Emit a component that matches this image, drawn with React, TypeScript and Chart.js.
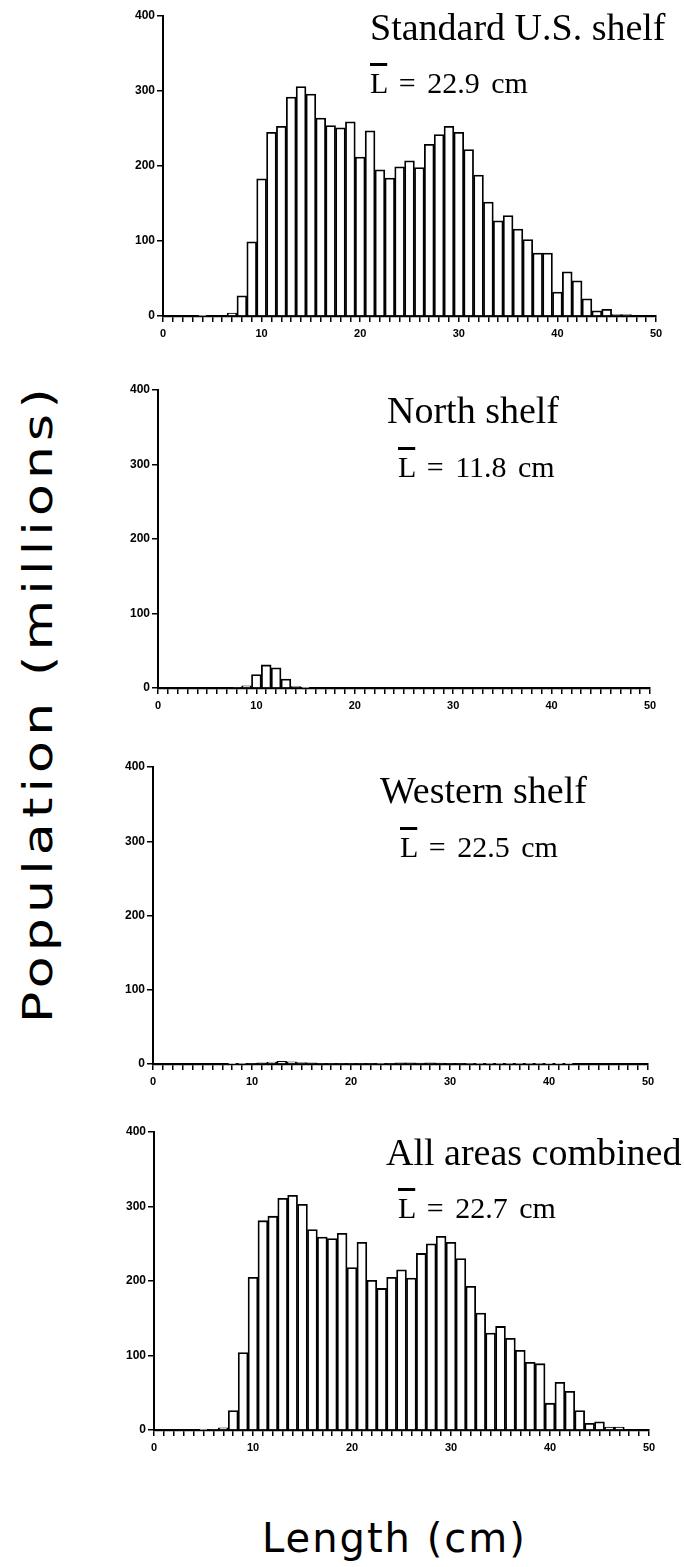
import React, { useEffect, useRef } from "react";
import { Chart, registerables } from "chart.js";

Chart.register(...registerables);

// Length classes (cm), bar centres
const lengthBins = [
  0, 1, 2, 3, 4, 5, 6, 7, 8, 9, 10, 11, 12, 13, 14, 15, 16, 17, 18, 19, 20, 21, 22, 23, 24,
  25, 26, 27, 28, 29, 30, 31, 32, 33, 34, 35, 36, 37, 38, 39, 40, 41, 42, 43, 44, 45, 46, 47, 48, 49,
];

// Population (millions) per length class
const standardShelf = [
  0, 0, 0, 0, 0.5, 1, 1, 4, 27, 99, 183, 245, 253, 292, 306, 296, 264, 254, 251, 259, 212, 247, 195, 184, 199,
  207, 198, 229, 242, 253, 245, 222, 188, 152, 127, 134, 116, 102, 84, 84, 32, 59, 47, 23, 7, 9, 2, 2, 0, 0,
];
const northShelf = [
  0, 0, 0, 0, 0, 0, 0, 0, 1, 3, 18, 31, 27, 12, 2, 0.5, 0, 0, 0, 0, 0, 0, 0, 0, 0,
  0, 0, 0, 0, 0, 0, 0, 0, 0, 0, 0, 0, 0, 0, 0, 0, 0, 0, 0, 0, 0, 0, 0, 0, 0,
];
const westernShelf = [
  0, 0, 0, 0, 0, 0, 0, 0, 0.2, 0.5, 1, 1.5, 2.5, 3.5, 3, 2, 1.5, 1, 1, 1, 1, 1, 1, 0.8, 1,
  1.5, 1.5, 1.2, 1.5, 1.2, 1, 1, 0.8, 0.6, 0.5, 0.5, 0.4, 0.3, 0.3, 0.3, 0.2, 0.2, 0.1, 0, 0, 0, 0, 0, 0, 0,
];
const allAreas = [
  0, 0, 0, 0, 0, 0.5, 1, 3, 26, 104, 205, 281, 287, 311, 315, 303, 269, 259, 257, 264, 218, 252, 201, 190, 205,
  215, 204, 237, 250, 260, 252, 230, 193, 157, 130, 139, 123, 107, 91, 89, 36, 64, 52, 26, 9, 11, 4, 4, 0, 0,
];

const yTickValues = [0, 100, 200, 300, 400];
const xLabelValues = [0, 10, 20, 30, 40, 50];
const panelNames = ["Standard U.S. shelf", "North shelf", "Western shelf", "All areas combined"];
const meanLengths = ["22.9", "11.8", "22.5", "22.7"];
const seriesList = [standardShelf, northShelf, westernShelf, allAreas];

type Geo = { x0: number; x50: number; y400: number; y0: number; tx: number; ty: number; lx: number; ly: number };
const geometry: Geo[] = [
  { x0: 163, x50: 656, y400: 16, y0: 316, tx: 370, ty: 27, lx: 370, ly: 83 },
  { x0: 158, x50: 650, y400: 390, y0: 688, tx: 387, ty: 410, lx: 398, ly: 467 },
  { x0: 153, x50: 648, y400: 767, y0: 1064, tx: 380, ty: 790, lx: 400, ly: 847 },
  { x0: 154, x50: 649, y400: 1132, y0: 1430, tx: 386, ty: 1152, lx: 398, ly: 1208 },
];

const CANVAS_LEFT = 90;
const PAD_TOP = 12;
const X_AXIS_H = 34;
const PAGE_W = 684;

function Panel({ values, g }: { values: number[]; g: Geo }) {
  const ref = useRef<HTMLCanvasElement>(null);
  const width = PAGE_W - CANVAS_LEFT;
  const height = PAD_TOP + (g.y0 - g.y400) + X_AXIS_H;

  useEffect(() => {
    const tickFont = { family: "'Liberation Sans', Arial, sans-serif", size: 11, weight: "bold" as const };
    const chart = new Chart(ref.current as HTMLCanvasElement, {
      type: "bar",
      data: {
        datasets: [
          {
            data: lengthBins.map((x, i) => ({ x, y: values[i] })),
            backgroundColor: "#ffffff",
            borderColor: "#000000",
            borderWidth: 1.8,
            barPercentage: 1,
            categoryPercentage: 1,
            borderSkipped: "bottom",
          } as any,
        ],
      },
      options: {
        responsive: false,
        animation: false,
        devicePixelRatio: 1,
        layout: { padding: { top: PAD_TOP, left: 0, right: PAGE_W - g.x50, bottom: 0 } },
        plugins: { legend: { display: false }, tooltip: { enabled: false } },
        scales: {
          x: {
            type: "linear",
            min: 0,
            max: 50,
            offset: false,
            ticks: {
              stepSize: 1,
              autoSkip: false,
              maxRotation: 0,
              minRotation: 0,
              color: "#000",
              padding: 5,
              font: tickFont,
              callback: (v: any) => {
                const n = Math.round(Number(v));
                return Math.abs(Number(v) - n) < 1e-6 && xLabelValues.includes(n) ? String(n) : "";
              },
            },
            grid: {
              display: true,
              drawOnChartArea: false,
              drawTicks: true,
              tickLength: 6,
              color: "#000",
              lineWidth: 1.5,
              offset: false,
            },
            border: { display: true, color: "#000", width: 2.2 },
            afterFit: (s: any) => {
              s.height = X_AXIS_H;
              s.paddingLeft = 0;
              s.paddingRight = 0;
            },
          } as any,
          y: {
            min: 0,
            max: 400,
            ticks: {
              stepSize: 100,
              color: "#000",
              padding: 2,
              font: { ...tickFont, size: 12 },
              callback: (v: any) => (yTickValues.includes(Number(v)) ? String(v) : ""),
            },
            grid: {
              display: true,
              drawOnChartArea: false,
              drawTicks: true,
              tickLength: 6,
              color: "#000",
              lineWidth: 1.5,
            },
            border: { display: true, color: "#000", width: 2 },
            afterFit: (s: any) => {
              s.width = g.x0 - CANVAS_LEFT;
              s.paddingTop = 0;
              s.paddingBottom = 0;
            },
          } as any,
        },
      },
    });
    return () => chart.destroy();
  }, []);

  return (
    <canvas
      ref={ref}
      width={width}
      height={height}
      style={{ position: "absolute", left: CANVAS_LEFT, top: g.y400 - PAD_TOP, width, height }}
    />
  );
}

export default function App() {
  return (
    <div style={{ position: "absolute", left: 0, top: 0, width: PAGE_W, height: 1567, background: "#fff", overflow: "hidden" }}>
      {geometry.map((g, i) => (
        <React.Fragment key={i}>
          <Panel values={seriesList[i]} g={g} />
          <div
            style={{
              position: "absolute",
              left: g.tx,
              top: g.ty - 19,
              fontFamily: "'Liberation Serif', 'Times New Roman', serif",
              fontSize: 38,
              lineHeight: 1,
              whiteSpace: "nowrap",
              color: "#000",
            }}
          >
            {panelNames[i]}
          </div>
          <div
            style={{
              position: "absolute",
              left: g.lx,
              top: g.ly - 15,
              fontFamily: "'Liberation Serif', 'Times New Roman', serif",
              fontSize: 30,
              lineHeight: 1,
              wordSpacing: 4,
              whiteSpace: "nowrap",
              color: "#000",
            }}
          >
            <span style={{ textDecoration: "overline" }}>L</span> = {meanLengths[i]} cm
          </div>
        </React.Fragment>
      ))}
      <div
        style={{
          position: "absolute",
          left: 38,
          top: 703,
          transform: "translate(-50%, -50%) rotate(-90deg) scaleX(1.3)",
          fontFamily: "'DejaVu Sans', sans-serif",
          fontSize: 40,
          letterSpacing: 4,
          whiteSpace: "nowrap",
          lineHeight: 1,
          color: "#000",
        }}
      >
        Population (millions)
      </div>
      <div
        style={{
          position: "absolute",
          left: 262,
          top: 1538 - 20,
          fontFamily: "'DejaVu Sans', sans-serif",
          fontSize: 40,
          letterSpacing: 2,
          whiteSpace: "nowrap",
          lineHeight: 1,
          color: "#000",
        }}
      >
        Length (cm)
      </div>
    </div>
  );
}
